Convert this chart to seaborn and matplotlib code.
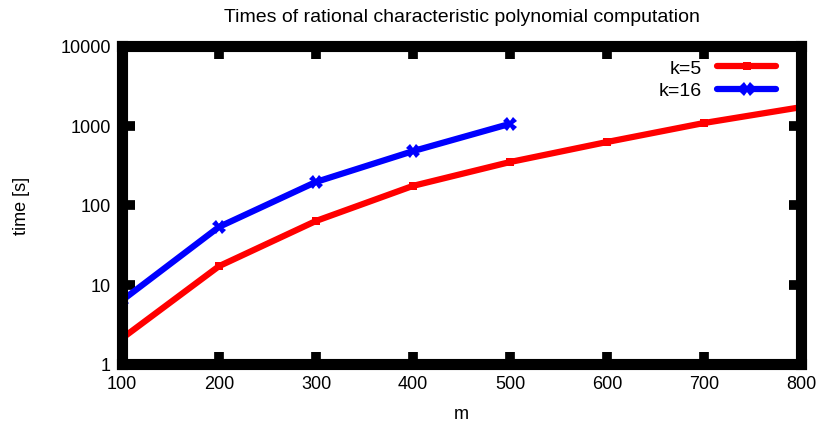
import numpy as np
import pandas as pd
import matplotlib
matplotlib.use("Agg")
import matplotlib.pyplot as plt
import seaborn as sns

# Measured times (seconds) for rational characteristic polynomial computation
m_k5 = [100, 200, 300, 400, 500, 600, 700, 800]
t_k5 = [2.1, 17, 63, 174, 347, 620, 1075, 1700]
m_k16 = [100, 200, 300, 400, 500]
t_k16 = [6.3, 53, 195, 476, 1050]
series_labels = ["k=5", "k=16"]
x_ticks = [100, 200, 300, 400, 500, 600, 700, 800]
y_ticks = [1, 10, 100, 1000, 10000]

sns.set_style("white")
plt.rcParams["font.family"] = ["Liberation Sans", "DejaVu Sans"]
plt.rcParams["text.color"] = "black"
plt.rcParams["axes.labelcolor"] = "black"
plt.rcParams["xtick.color"] = "black"
plt.rcParams["ytick.color"] = "black"

df = pd.concat([
    pd.DataFrame({"m": m_k5, "time": t_k5, "k": series_labels[0]}),
    pd.DataFrame({"m": m_k16, "time": t_k16, "k": series_labels[1]}),
])

fig = plt.figure(figsize=(8.23, 4.27), dpi=100)
ax = fig.add_axes([122 / 823, 1 - 365 / 427, (801 - 122) / 823, (365 - 47) / 427])

sns.lineplot(data=df[df.k == series_labels[0]], x="m", y="time", ax=ax,
             color="#ff0000", linewidth=4.5, marker="s", markersize=5.5,
             markeredgewidth=0, label=series_labels[0])
sns.lineplot(data=df[df.k == series_labels[1]], x="m", y="time", ax=ax,
             color="#0000ff", linewidth=4.5, marker="X", markersize=10,
             markeredgewidth=0, label=series_labels[1])

ax.set_yscale("log")
ax.set_xlim(100, 800)
ax.set_ylim(1, 10000)
ax.set_xticks(x_ticks)
ax.set_xticklabels([str(v) for v in x_ticks])
ax.set_yticks(y_ticks)
ax.set_yticklabels([str(v) for v in y_ticks])
ax.yaxis.set_minor_locator(matplotlib.ticker.NullLocator())
ax.xaxis.set_minor_locator(matplotlib.ticker.NullLocator())

for s in ax.spines.values():
    s.set_visible(True)
    s.set_linewidth(8)
    s.set_color("black")
    s.set_zorder(5)

ax.tick_params(axis="both", which="major", direction="in", length=9, width=7,
               color="black", labelcolor="black", labelsize=13,
               bottom=True, left=True, top=True, right=True,
               labeltop=False, labelright=False, labelbottom=True,
               labelleft=True, pad=8)

ax.set_xlabel("m", fontsize=13, labelpad=9)
ax.set_ylabel("time [s]", fontsize=13, labelpad=22)
ax.set_title("Times of rational characteristic polynomial computation",
             fontsize=14, pad=18, color="black")

leg = ax.legend(loc="upper right", frameon=False, markerfirst=False,
                fontsize=14, handlelength=3.0, handletextpad=0.8,
                borderaxespad=0.2, labelspacing=0.25,
                bbox_to_anchor=(0.98, 0.995))

fig.savefig("out.png", dpi=100)
